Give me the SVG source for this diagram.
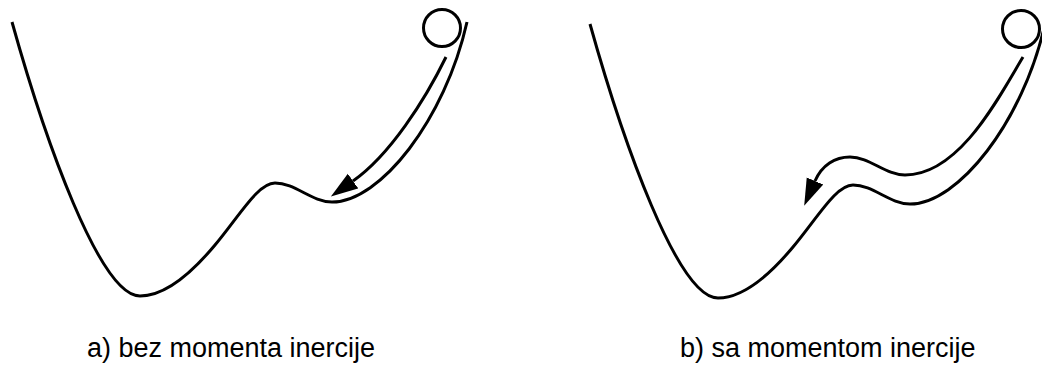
<svg xmlns="http://www.w3.org/2000/svg" width="1042" height="379" viewBox="0 0 1042 379">
<style>
.curve{fill:none;stroke:#000;stroke-width:3;stroke-linecap:butt}
.ball{fill:#fff;stroke:#000;stroke-width:3}
.arrow{fill:none;stroke:#000;stroke-width:3;marker-end:url(#head)}
.label{font-family:"Liberation Sans",Arial,Helvetica,sans-serif;font-size:27px;fill:#000}
</style>
<defs>
<marker id="head" markerUnits="userSpaceOnUse" viewBox="0 -10 28 20" markerWidth="28" markerHeight="20" refX="0" refY="0" orient="auto">
<path d="M0,-9 L27,0 L0,9 Z" fill="#000"/>
</marker>
<path id="landscape" d="M12,22 C45,140 100,296 140,296 C165,296 190,275 215,245 C240,215 258,183 275,183 C295,183 312,202 332,202 C380,202 445,120 467,22"/>
</defs>
<g id="diagram-a">
<use href="#landscape" class="curve"/>
<circle id="ball-a" class="ball" cx="442" cy="28" r="18.5"/>
</g>
<g id="diagram-b" >
<use href="#landscape" class="curve" transform="translate(578,2)"/>
<circle id="ball-b" class="ball" cx="1021" cy="29" r="18.5"/>
</g>
<g id="connectors">
<path id="arrow-a" class="arrow" d="M446,57 C425,100 390,155 353,181"/>
<path id="arrow-b" class="arrow" d="M1023,57 C1000,95 960,175 905,175 C885,175 870,157 850,157 C835,157 822,165 815,181"/>
</g>
<g id="labels">
<text class="label" x="87" y="357">a) bez momenta inercije</text>
<text class="label" x="680" y="357">b) sa momentom inercije</text>
</g>
</svg>
